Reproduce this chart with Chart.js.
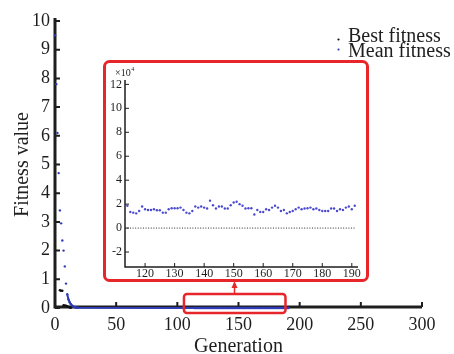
<!DOCTYPE html>
<html>
<head>
<meta charset="utf-8">
<script src="https://cdn.jsdelivr.net/npm/chart.js@4.4.1/dist/chart.umd.min.js"></script>
<style>
  html, body { margin: 0; padding: 0; background: #fff; }
  #wrap { position: relative; width: 454px; height: 354px; overflow: hidden; }
  #main { position: absolute; left: 0; top: 0; }
  #detail { position: absolute; left: 102px; top: 59px; }
</style>
</head>
<body>
<div id="wrap">
  <canvas id="main" width="454" height="354"></canvas>
  <canvas id="detail" width="268" height="224"></canvas>
</div>
<script>
// ---- data -------------------------------------------------------------
// first generations of the run (fitness on the main axis)
const earlyGenerations = [0, 1, 2, 3, 4, 5, 6, 7, 8, 9, 10, 11, 12, 13, 14, 15, 16, 17, 18, 19];
const earlyMeanFitness = [9.5, 7.8, 6.1, 4.7, 3.4, 2.95, 2.35, 2.0, 1.45, 0.85, 0.48, 0.3, 0.2, 0.13, 0.08, 0.05, 0.03, 0.018, 0.01, 0.005];

const bestGenerations = [4, 5, 6, 7, 8, 9, 10, 11, 12, 13];
const bestFitness = [0.62, 0.6, 0.6, 0.1, 0.09, 0.08, 0.06, 0.04, 0.02, 0.01];

// detail window, values in units of the inset axis multiplier
const detailGenerations = [
  114, 115, 116, 117, 118, 119, 120, 121, 122, 123, 124, 125, 126, 127, 128, 129, 130, 131, 132, 133,
  134, 135, 136, 137, 138, 139, 140, 141, 142, 143, 144, 145, 146, 147, 148, 149, 150, 151, 152, 153,
  154, 155, 156, 157, 158, 159, 160, 161, 162, 163, 164, 165, 166, 167, 168, 169, 170, 171, 172, 173,
  174, 175, 176, 177, 178, 179, 180, 181, 182, 183, 184, 185, 186, 187, 188, 189, 190, 191
];
const detailMeanFitness = [
  1.86, 1.34, 1.29, 1.23, 1.43, 1.80, 1.57, 1.51, 1.51, 1.57, 1.49, 1.49, 1.29, 1.29, 1.57, 1.66, 1.66, 1.66, 1.71, 1.51,
  1.29, 1.23, 1.43, 1.80, 1.71, 1.80, 1.71, 1.63, 2.29, 1.91, 1.63, 1.80, 1.80, 1.63, 1.63, 1.91, 2.14, 2.20, 2.00, 1.86,
  1.63, 1.66, 1.66, 1.14, 1.51, 1.34, 1.34, 1.57, 1.51, 1.71, 1.86, 1.71, 1.43, 1.51, 1.23, 1.34, 1.43, 1.57, 1.71, 1.57,
  1.63, 1.66, 1.71, 1.57, 1.63, 1.51, 1.43, 1.43, 1.43, 1.63, 1.63, 1.43, 1.57, 1.51, 1.71, 1.80, 1.57, 1.86
];
const detailBestGenerations = [114, 191];
const detailBestFitness = [0, 0];
const detailUnit = 1e-4;          // inset values -> main-axis units

// zoomed generation span marked on the main axis
const zoomSpan = [105, 188];

const mainXTicks = [0, 50, 100, 150, 200, 250, 300];
const mainYTicks = [0, 1, 2, 3, 4, 5, 6, 7, 8, 9, 10];
const detailXTicks = [120, 130, 140, 150, 160, 170, 180, 190];
const detailYTicks = [-2, 0, 2, 4, 6, 8, 10, 12];

const legendLabels = ['Best fitness', 'Mean fitness'];
const axisTitles = ['Generation', 'Fitness value'];
const multiplierText = ['\u00d710', '4'];

// ---- styling ----------------------------------------------------------
const FONT = '"Liberation Serif", "Times New Roman", serif';
const INK = '#1e1e1e';
const BLUE = '#2f3cb8';
const DOT_BLUE = '#4a4ad0';
const RED = '#e6262b';

const pts = (xs, ys, k = 1) => xs.map((x, i) => ({ x, y: ys[i] * k }));

const meanPoints = pts(earlyGenerations, earlyMeanFitness)
  .concat(pts(detailGenerations, detailMeanFitness, detailUnit));

function roundRect(ctx, x, y, w, h, r) {
  ctx.beginPath();
  ctx.moveTo(x + r, y);
  ctx.lineTo(x + w - r, y);
  ctx.arcTo(x + w, y, x + w, y + r, r);
  ctx.lineTo(x + w, y + h - r);
  ctx.arcTo(x + w, y + h, x + w - r, y + h, r);
  ctx.lineTo(x + r, y + h);
  ctx.arcTo(x, y + h, x, y + h - r, r);
  ctx.lineTo(x, y + r);
  ctx.arcTo(x, y, x + r, y, r);
  ctx.closePath();
}

// axes with inward tick marks, drawn from the chart's own scales
function drawAxes(chart, o) {
  const { ctx, chartArea: a, scales: { x, y } } = chart;
  ctx.save();
  ctx.strokeStyle = INK;
  ctx.lineCap = 'butt';
  ctx.lineWidth = o.axisWidth;
  ctx.beginPath();
  ctx.moveTo(a.left, a.top - o.overTop);
  ctx.lineTo(a.left, a.bottom - o.xShift + o.axisWidth / 2);
  ctx.moveTo(a.left - o.axisWidth / 2, a.bottom - o.xShift);
  ctx.lineTo(a.right, a.bottom - o.xShift);
  ctx.stroke();
  ctx.lineWidth = o.tickWidth;
  ctx.beginPath();
  y.ticks.forEach(t => {
    const py = y.getPixelForValue(t.value);
    ctx.moveTo(a.left, py);
    ctx.lineTo(a.left + o.tickLen, py);
  });
  x.ticks.forEach(t => {
    if (t.value === x.min) return;
    const px = x.getPixelForValue(t.value);
    ctx.moveTo(px, a.bottom - o.xShift);
    ctx.lineTo(px, a.bottom - o.xShift - o.tickLen);
  });
  ctx.stroke();
  ctx.restore();
}

const mainDecor = {
  id: 'mainDecor',
  beforeDatasetsDraw(chart) {
    drawAxes(chart, { axisWidth: 3, tickWidth: 2, tickLen: 5, overTop: 3, xShift: 1 });
  },
  afterDraw(chart) {
    const { ctx, chartArea: a, scales: { x } } = chart;
    ctx.save();
    // legend
    const ds = chart.data.datasets;
    ctx.font = '20px ' + FONT;
    ctx.textBaseline = 'alphabetic';
    ctx.fillStyle = INK;
    ctx.fillText(ds[0].label, 348, 42);
    ctx.fillText(ds[1].label, 348, 57);
    ctx.fillStyle = ds[0].backgroundColor;
    ctx.beginPath(); ctx.arc(338.5, 39.5, 1.1, 0, Math.PI * 2); ctx.fill();
    ctx.fillStyle = ds[1].backgroundColor;
    ctx.beginPath(); ctx.arc(338.5, 49.5, 1.1, 0, Math.PI * 2); ctx.fill();

    // zoom marker on the generation axis
    const x0 = x.getPixelForValue(zoomSpan[0]);
    const x1 = x.getPixelForValue(zoomSpan[1]);
    ctx.strokeStyle = RED;
    ctx.lineWidth = 2.5;
    roundRect(ctx, x0 + 0.5, a.bottom - 14, x1 - x0, 19, 3);
    ctx.stroke();

    // arrow up to the detail panel
    const xm = 234.5;
    ctx.lineWidth = 1.5;
    ctx.beginPath();
    ctx.moveTo(xm, a.bottom - 14);
    ctx.lineTo(xm, 285);
    ctx.stroke();
    ctx.fillStyle = RED;
    ctx.beginPath();
    ctx.moveTo(xm, 281);
    ctx.lineTo(xm - 3, 288);
    ctx.lineTo(xm + 3, 288);
    ctx.closePath();
    ctx.fill();
    ctx.restore();
  }
};

new Chart(document.getElementById('main'), {
  type: 'scatter',
  data: {
    datasets: [
      {
        label: legendLabels[0],
        data: pts(bestGenerations, bestFitness),
        backgroundColor: '#111111',
        pointRadius: 1.2,
        pointBorderWidth: 0,
        showLine: false,
        clip: false
      },
      {
        label: legendLabels[1],
        data: meanPoints,
        backgroundColor: BLUE,
        borderColor: BLUE,
        pointRadius: 1.2,
        pointBorderWidth: 0,
        showLine: true,
        borderWidth: 2,
        clip: false,
        segment: {
          borderColor: c => (c.p0.parsed.y > 0.5 ? 'rgba(0,0,0,0)' : BLUE)
        }
      }
    ]
  },
  options: {
    responsive: false,
    animation: false,
    devicePixelRatio: 1,
    layout: { padding: { top: 21, right: 32, left: 0, bottom: 0 } },
    plugins: { legend: { display: false }, tooltip: { enabled: false } },
    scales: {
      x: {
        type: 'linear',
        min: 0,
        max: 300,
        grid: { display: false, drawTicks: false },
        border: { display: false },
        afterBuildTicks: s => { s.ticks = mainXTicks.map(v => ({ value: v })); },
        afterFit: s => { s.height = 46; },
        ticks: { padding: 6, autoSkip: false, maxRotation: 0, color: INK, font: { family: FONT, size: 18 } },
        title: {
          display: true, text: axisTitles[0], color: INK,
          font: { family: FONT, size: 20, lineHeight: 1 },
          padding: { top: 0, bottom: -3 }
        }
      },
      y: {
        type: 'linear',
        min: 0,
        max: 10,
        grid: { display: false, drawTicks: false },
        border: { display: false },
        afterBuildTicks: s => { s.ticks = mainYTicks.map(v => ({ value: v })); },
        afterFit: s => { s.width = 55; },
        ticks: { padding: 5, autoSkip: false, color: INK, font: { family: FONT, size: 18 } },
        title: {
          display: true, text: axisTitles[1], color: INK,
          font: { family: FONT, size: 20, lineHeight: 1 },
          padding: { top: 13, bottom: 0 }
        }
      }
    }
  },
  plugins: [mainDecor]
});

// ---- detail panel -------------------------------------------------------
const detailDecor = {
  id: 'detailDecor',
  beforeDraw(chart) {
    const { ctx, width, height } = chart;
    ctx.save();
    ctx.fillStyle = '#ffffff';
    roundRect(ctx, 1, 1, width - 2, height - 2, 5);
    ctx.fill();
    ctx.restore();
  },
  beforeDatasetsDraw(chart) {
    drawAxes(chart, { axisWidth: 1.5, tickWidth: 1, tickLen: 4, overTop: 2, xShift: 0 });
    const { ctx } = chart;
    ctx.save();
    ctx.fillStyle = INK;
    ctx.textBaseline = 'alphabetic';
    ctx.font = '10px ' + FONT;
    ctx.fillText(multiplierText[0], 13, 17);
    const w = ctx.measureText(multiplierText[0]).width;
    ctx.font = '6px ' + FONT;
    ctx.fillText(multiplierText[1], 13 + w + 0.5, 12);
    ctx.restore();
  },
  afterDraw(chart) {
    const { ctx, width, height } = chart;
    ctx.save();
    ctx.strokeStyle = RED;
    ctx.lineWidth = 3;
    roundRect(ctx, 2.5, 2.5, width - 5, height - 5, 5);
    ctx.stroke();
    ctx.restore();
  }
};

new Chart(document.getElementById('detail'), {
  type: 'scatter',
  data: {
    datasets: [
      {
        label: legendLabels[0],
        data: pts(detailBestGenerations, detailBestFitness),
        showLine: true,
        borderColor: '#2a2a2a',
        borderWidth: 1,
        borderDash: [1, 1.6],
        pointRadius: 0
      },
      {
        label: legendLabels[1],
        data: pts(detailGenerations, detailMeanFitness),
        backgroundColor: DOT_BLUE,
        pointRadius: 1.2,
        pointBorderWidth: 0,
        showLine: false
      }
    ]
  },
  options: {
    responsive: false,
    animation: false,
    devicePixelRatio: 1,
    layout: { padding: { top: 23, right: 12, left: 0, bottom: 0 } },
    plugins: { legend: { display: false }, tooltip: { enabled: false } },
    scales: {
      x: {
        type: 'linear',
        min: 113.2,
        max: 192.1,
        grid: { display: false, drawTicks: false },
        border: { display: false },
        afterBuildTicks: s => { s.ticks = detailXTicks.map(v => ({ value: v })); },
        afterFit: s => { s.height = 16; },
        ticks: { padding: 1, autoSkip: false, maxRotation: 0, color: INK, font: { family: FONT, size: 12, lineHeight: 1 } }
      },
      y: {
        type: 'linear',
        min: -3.25,
        max: 12.2,
        grid: { display: false, drawTicks: false },
        border: { display: false },
        afterBuildTicks: s => { s.ticks = detailYTicks.map(v => ({ value: v })); },
        afterFit: s => { s.width = 23; },
        ticks: { padding: 3, autoSkip: false, color: INK, font: { family: FONT, size: 12 } }
      }
    }
  },
  plugins: [detailDecor]
});
</script>
</body>
</html>
